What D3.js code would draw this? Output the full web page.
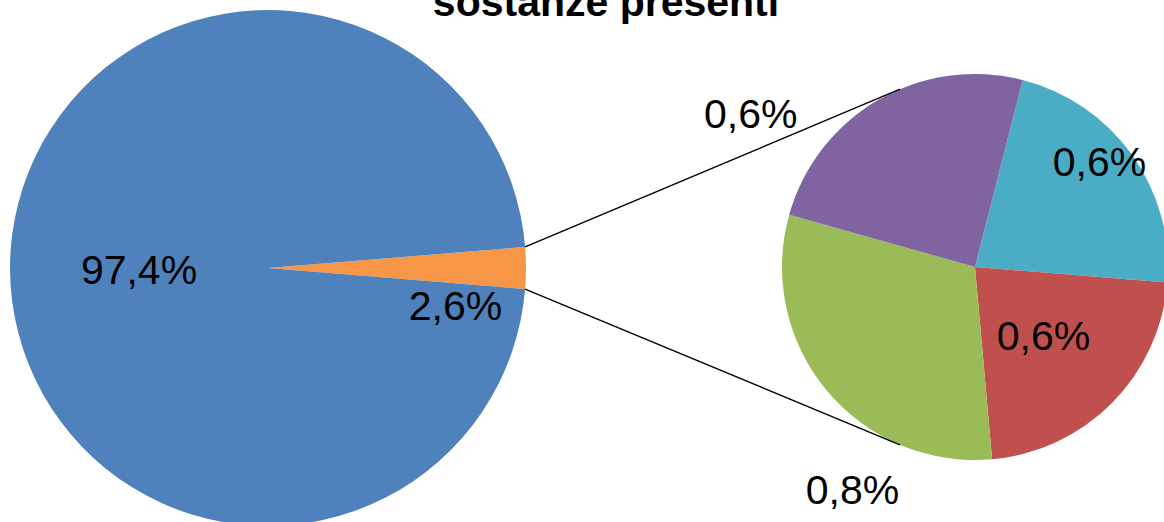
<!DOCTYPE html>
<html>
<head>
<meta charset="utf-8">
<script src="https://cdn.jsdelivr.net/npm/d3@7"></script>
<style>
  body { margin: 0; background: #fff; }
  text { font-family: "Liberation Sans", Arial, sans-serif; }
</style>
</head>
<body>
<div id="chart"></div>
<script>
// main pie: the broken-out group (orange) first, then the rest
var mainCategories = ["Sostanze minori", "Altre sostanze"];
var mainValues = [2.6, 97.4];
var mainColors = ["#F79646", "#4F81BD"];

// secondary pie: detail of the 2,6% slice
var subCategories = ["Sostanza A", "Sostanza B", "Sostanza C", "Sostanza D"];
var subValues = [0.58, 0.58, 0.80, 0.64];
var subColors = ["#4BACC6", "#C0504D", "#9BBB59", "#8064A2"];

var title = "sostanze presenti";

var width = 1164, height = 522;
var deg = Math.PI / 180;

var svg = d3.select("#chart")
  .append("svg")
    .attr("width", width)
    .attr("height", height);

var fmt = function(v) { return d3.format(".1f")(v).replace(".", ",") + "%"; };

// ---- main pie
var R = 258, cx = 268, cy = 268;
var mainTotal = d3.sum(mainValues);
var half = mainValues[0] / mainTotal * Math.PI; // half the broken-out slice
var mainPie = d3.pie().sort(null)
  .startAngle(Math.PI / 2 - half)
  .endAngle(Math.PI / 2 - half + 2 * Math.PI);
var mainArcs = mainPie(mainValues);
var arc = d3.arc().innerRadius(0).outerRadius(R);

var gMain = svg.append("g").attr("transform", "translate(" + cx + "," + cy + ")");
gMain.selectAll("path")
  .data(mainArcs)
  .enter().append("path")
    .attr("d", arc)
    .attr("fill", function(d, i) { return mainColors[i]; });

// label placement (radius factor, angle nudge in degrees)
var mainLabelPos = [[0.74, 10.9], [0.5, 0]];
gMain.selectAll("text")
  .data(mainArcs)
  .enter().append("text")
    .attr("transform", function(d, i) {
      var mid = (d.startAngle + d.endAngle) / 2 + mainLabelPos[i][1] * deg;
      var p = d3.pointRadial(mid, R * mainLabelPos[i][0]);
      return "translate(" + p[0] + "," + (p[1] + 15.5) + ")";
    })
    .attr("text-anchor", "middle")
    .style("font-size", "41px")
    .text(function(d) { return fmt(d.value); });

// ---- secondary pie
var r2 = 193, cx2 = 975, cy2 = 267;
var subPie = d3.pie().sort(null)
  .startAngle(14.3 * deg)
  .endAngle(14.3 * deg + 2 * Math.PI);
var subArcs = subPie(subValues);
var arc2 = d3.arc().innerRadius(0).outerRadius(r2);

var gSub = svg.append("g").attr("transform", "translate(" + cx2 + "," + cy2 + ")");
gSub.selectAll("path")
  .data(subArcs)
  .enter().append("path")
    .attr("d", arc2)
    .attr("fill", function(d, i) { return subColors[i]; });

var subLabelPos = [[0.85, -5.1], [0.5, 0], [1.31, -21.3], [1.41, -25.5]];
gSub.selectAll("text")
  .data(subArcs)
  .enter().append("text")
    .attr("transform", function(d, i) {
      var mid = (d.startAngle + d.endAngle) / 2 + subLabelPos[i][1] * deg;
      var p = d3.pointRadial(mid, r2 * subLabelPos[i][0]);
      return "translate(" + p[0] + "," + (p[1] + 15.5) + ")";
    })
    .attr("text-anchor", "middle")
    .style("font-size", "41px")
    .text(function(d) { return fmt(d.value); });

// ---- connector lines from the broken-out slice to the secondary pie
var tangent = Math.asin(75 / r2);
var links = [
  [mainArcs[0].startAngle, -tangent],
  [mainArcs[0].endAngle, Math.PI + tangent]
];
svg.selectAll("line.link")
  .data(links)
  .enter().append("line")
    .attr("class", "link")
    .attr("x1", function(d) { return cx + d3.pointRadial(d[0], R)[0]; })
    .attr("y1", function(d) { return cy + d3.pointRadial(d[0], R)[1]; })
    .attr("x2", function(d) { return cx2 + d3.pointRadial(d[1], r2)[0]; })
    .attr("y2", function(d) { return cy2 + d3.pointRadial(d[1], r2)[1]; })
    .attr("stroke", "#000")
    .attr("stroke-width", 1.4);

// ---- title (its top is cut off by the frame, as in the source)
svg.append("text")
  .attr("x", 606)
  .attr("y", 16)
  .attr("text-anchor", "middle")
  .style("font-size", "41px")
  .style("font-weight", "bold")
  .text(title);
</script>
</body>
</html>
